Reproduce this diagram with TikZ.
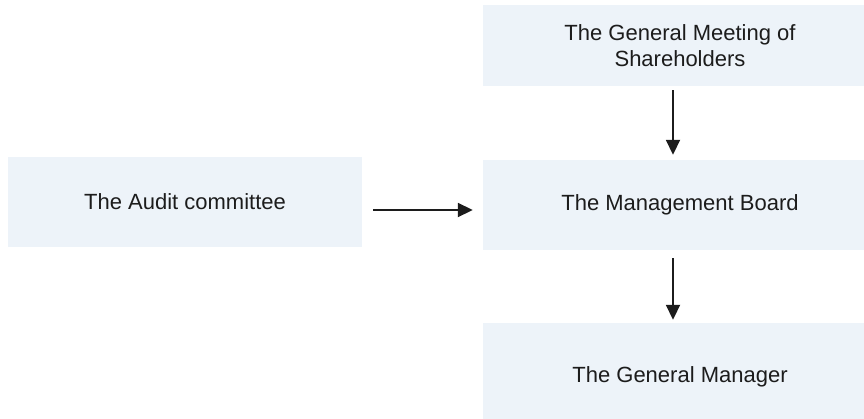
\documentclass[tikz,border=0pt]{standalone}
\usepackage{fontspec}
\setmainfont{Liberation Sans}
\usetikzlibrary{arrows.meta}
\definecolor{boxfill}{RGB}{237,243,249}
\definecolor{ink}{RGB}{28,28,28}
\begin{document}
\begin{tikzpicture}[x=1pt,y=-1pt,
  orgbox/.style={rectangle, fill=boxfill, draw=none, align=center,
    text=ink, font=\fontsize{22}{26}\selectfont, inner sep=0pt},
  link/.style={draw=ink, line width=1.8pt,
    -{Triangle[length=15pt,width=14pt]}}]
  \useasboundingbox (0,0) rectangle (864,418);
  \clip (0,0) rectangle (864,418);
  \fill[white] (0,0) rectangle (864,418);

  % boxes
  \node[orgbox, minimum width=394pt, minimum height=81pt] (gms) at (680,45.5)
    {The General Meeting of\\Shareholders};
  \node[orgbox, minimum width=354pt, minimum height=90pt] (audit) at (185,202)
    {The Audit committee};
  \node[orgbox, minimum width=394pt, minimum height=90pt] (board) at (680,205)
    {The Management Board};
  \node[orgbox, minimum width=394pt, minimum height=108pt] (gm) at (680,377)
    {The General Manager};

  % connectors
  \draw[link, shorten <=4pt, shorten >=5pt]
    ([xshift=-7pt]gms.south) -- ([xshift=-7pt]board.north);
  \draw[link, shorten <=8pt, shorten >=3pt]
    ([xshift=-7pt]board.south) -- ([xshift=-7pt]gm.north);
  \draw[link, shorten <=11pt, shorten >=10pt]
    ([yshift=-8pt]audit.east) -- ([yshift=-5pt]board.west);
\end{tikzpicture}
\end{document}
